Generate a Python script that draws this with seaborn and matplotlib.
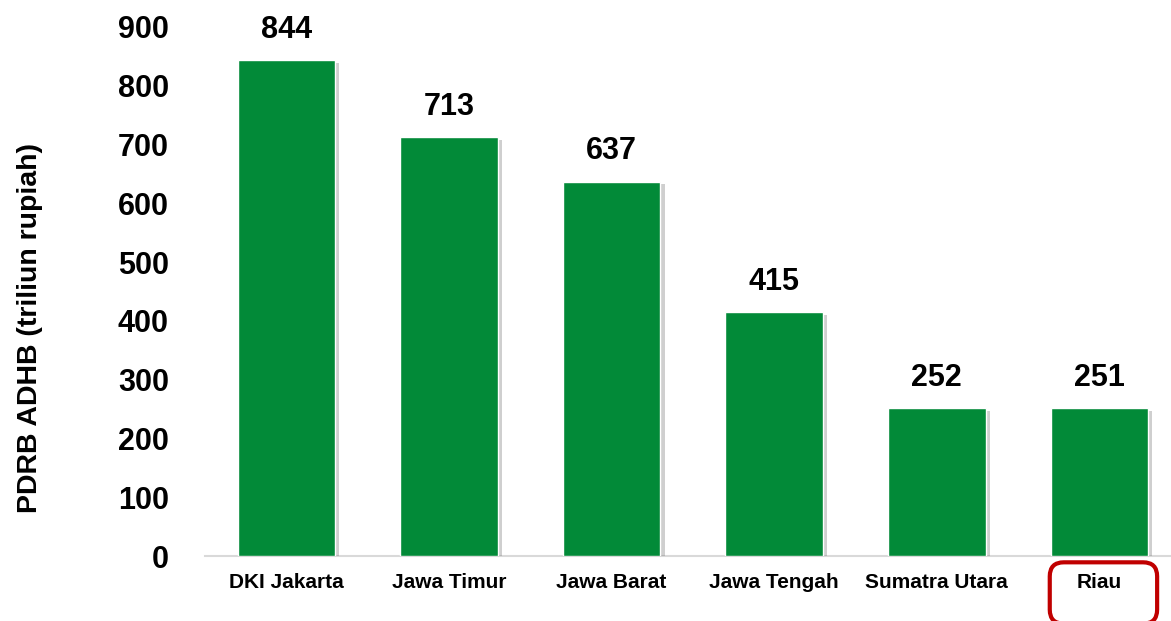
import matplotlib
matplotlib.use("Agg")
import matplotlib.pyplot as plt
import matplotlib.patheffects as pe
from matplotlib.patches import FancyBboxPatch
import seaborn as sns
import pandas as pd

regions = ["DKI Jakarta", "Jawa Timur", "Jawa Barat", "Jawa Tengah", "Sumatra Utara", "Riau"]
values = [844, 713, 637, 415, 252, 251]
y_ticks = [0, 100, 200, 300, 400, 500, 600, 700, 800, 900]
y_label = "PDRB ADHB (triliun rupiah)"
highlight = "Riau"

sns.set_theme(style="white")
plt.rcParams["font.family"] = ["Liberation Sans", "DejaVu Sans"]
plt.rcParams["font.weight"] = "bold"

df = pd.DataFrame({"region": regions, "value": values})

fig = plt.figure(figsize=(11.71, 6.21), dpi=100)
ax = fig.add_axes([205/1171, 1 - 556/621, 1 - 205/1171, (556 - 27)/621])

sns.barplot(data=df, x="region", y="value", color="#028A38", saturation=1,
            width=0.6, ax=ax, zorder=3)
for p in ax.patches:
    p.set_path_effects([pe.SimplePatchShadow(offset=(3, -2), shadow_rgbFace="#777777", alpha=0.35),
                        pe.Normal()])

ax.bar_label(ax.containers[0], labels=[str(v) for v in values], padding=11,
             fontsize=22, fontweight="bold", color="black")

ax.set_ylim(0, 900)
ax.set_xlim(-0.5, 5.44)
ax.set_yticks(y_ticks)
ax.set_yticklabels([str(t) for t in y_ticks], fontsize=22, fontweight="bold", color="black")
ax.tick_params(axis="y", length=0, pad=26)
ax.tick_params(axis="x", length=0, pad=12, labelsize=15, labelcolor="black")
for lbl in ax.get_xticklabels():
    lbl.set_fontweight("bold")
ax.set_xlabel("")
ax.set_ylabel("")
for s in ["top", "right", "left"]:
    ax.spines[s].set_visible(False)
ax.spines["bottom"].set_color("#D9D9D9")
ax.spines["bottom"].set_linewidth(1.5)
ax.patch.set_alpha(0)

fig.text(30/1171, 1 - 328/621, y_label, rotation=90, ha="center", va="center",
         fontsize=20.5, fontweight="bold", color="black")

# highlight box around the Riau label
idx = regions.index(highlight)
xc_disp = ax.transData.transform((idx, 0))[0]
w, h = 106, 60
x0 = (xc_disp - w / 2 + 4) / 1171
box = FancyBboxPatch((x0 + 4/1171, (621 - 619) / 621), (w - 8) / 1171, (h - 8) / 621,
                     boxstyle="round,pad=0.004,rounding_size=0.012",
                     transform=fig.transFigure, fill=False, edgecolor="#C00000",
                     linewidth=3, mutation_aspect=1171/621, clip_on=False)
fig.patches.append(box)

fig.savefig("out.png", dpi=100, facecolor="white")
